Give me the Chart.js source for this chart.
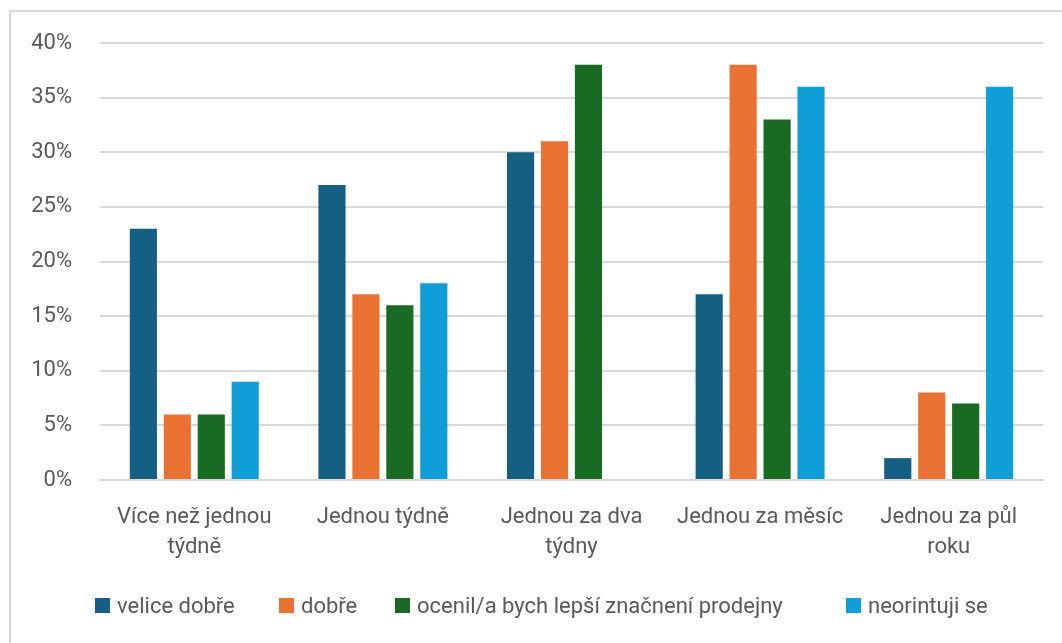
<!DOCTYPE html>
<html lang="cs">
<head>
<meta charset="utf-8">
<script src="https://cdn.jsdelivr.net/npm/chart.js@4/dist/chart.umd.min.js"></script>
<style>
  html, body { margin: 0; padding: 0; background: #fff; }
  #wrap { position: relative; width: 1062px; height: 643px; overflow: hidden; }
  #frame { position: absolute; left: 9px; top: 10px; width: 1060px; height: 640px;
           border: 2px solid #d9d9d9; box-sizing: border-box; pointer-events: none; }
  #chart { position: absolute; left: 0; top: 0; }
  #legend { position: absolute; left: 0; top: 591px; width: 1062px; height: 28px;
            font-family: Roboto, "Liberation Sans", sans-serif; font-size: 22px; color: #595959; }
  .item { position: absolute; top: 0; display: flex; align-items: center; height: 28px; white-space: nowrap; }
  .swatch { width: 15px; height: 15px; margin-right: 7px; }
</style>
</head>
<body>
<div id="wrap">
  <canvas id="chart" width="1062" height="643"></canvas>
  <div id="legend"></div>
  <div id="frame"></div>
</div>
<script>
// Frequency categories (x axis)
const categories = [
  ['Více než jednou', 'týdně'],
  ['Jednou týdně'],
  ['Jednou za dva', 'týdny'],
  ['Jednou za měsíc'],
  ['Jednou za půl', 'roku']
];

// Series names
const seriesNames = [
  'velice dobře',
  'dobře',
  'ocenil/a bych lepší značnení prodejny',
  'neorintuji se'
];

// Share of respondents (%) per series
const veliceDobre = [23, 27, 30, 17, 2];
const dobre = [6, 17, 31, 38, 8];
const ocenil = [6, 16, 38, 33, 7];
const neorintuji = [9, 18, 0, 36, 36];

// Y axis ticks
const yTicks = [0, 5, 10, 15, 20, 25, 30, 35, 40];

const colors = ['#156082', '#E97132', '#196B24', '#0F9ED5'];
const seriesValues = [veliceDobre, dobre, ocenil, neorintuji];

const textColor = '#595959';
const fontFamily = 'Roboto, "Liberation Sans", sans-serif';

const chart = new Chart(document.getElementById('chart'), {
  type: 'bar',
  data: {
    labels: categories,
    datasets: seriesNames.map((name, i) => ({
      label: name,
      data: seriesValues[i],
      backgroundColor: colors[i],
      borderWidth: 0,
      categoryPercentage: 0.72,
      barPercentage: 0.8
    }))
  },
  options: {
    responsive: false,
    animation: false,
    layout: { padding: { left: 0, right: 19, top: 43, bottom: 0 } },
    plugins: {
      legend: { display: false },
      tooltip: { enabled: false }
    },
    scales: {
      x: {
        grid: { display: false, drawTicks: false },
        border: { display: true, color: '#d9d9d9', width: 2 },
        ticks: {
          color: textColor,
          font: { family: fontFamily, size: 22, lineHeight: 1.36 },
          padding: 23,
          maxRotation: 0,
          autoSkip: false
        },
        afterFit: (scale) => { scale.height = 163; }
      },
      y: {
        min: 0,
        max: 40,
        afterBuildTicks: (scale) => { scale.ticks = yTicks.map(v => ({ value: v })); },
        grid: { color: '#d9d9d9', lineWidth: 2, drawTicks: false },
        border: { display: false },
        ticks: {
          color: textColor,
          font: { family: fontFamily, size: 22 },
          padding: 28,
          callback: (v) => v + '%'
        },
        afterFit: (scale) => { scale.width = 100; }
      }
    }
  }
});

// Legend row below the plot
const legendColumns = [95, 279, 395, 846];
const legend = document.getElementById('legend');
chart.data.datasets.forEach((ds, i) => {
  const item = document.createElement('div');
  item.className = 'item';
  item.style.left = legendColumns[i] + 'px';
  const sw = document.createElement('span');
  sw.className = 'swatch';
  sw.style.background = ds.backgroundColor;
  const tx = document.createElement('span');
  tx.textContent = ds.label;
  item.appendChild(sw);
  item.appendChild(tx);
  legend.appendChild(item);
});
</script>
</body>
</html>
